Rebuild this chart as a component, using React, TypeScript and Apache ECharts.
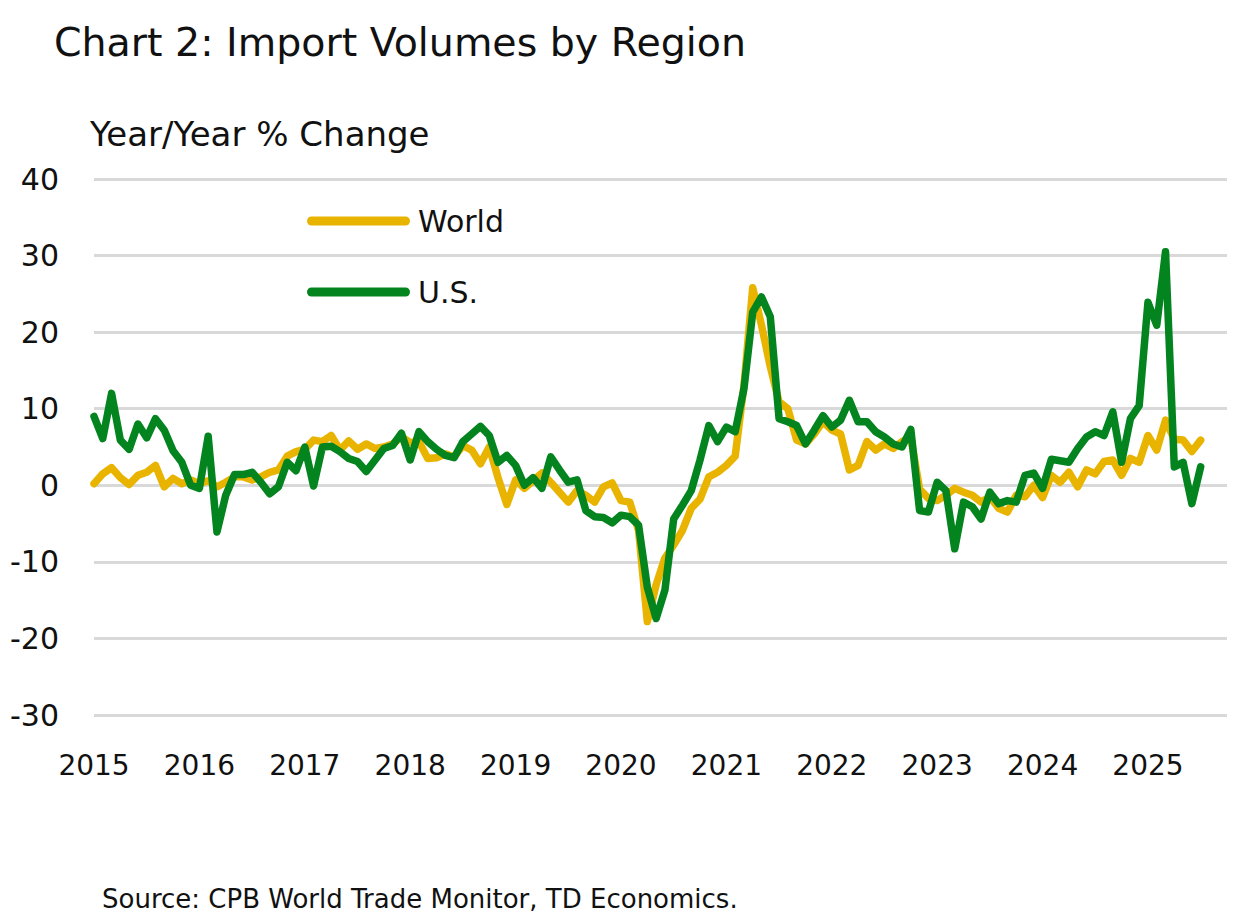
import { useRef, useEffect } from "react";
import * as echarts from "echarts";

// monthly, Jan 2015 onward; axis runs to Oct 2025
const startYear = 2015;
const monthCount = 130;

const world = [
    0.2, 1.5, 2.3, 1.0, 0.1, 1.3, 1.7, 2.6, -0.2, 0.9, 0.2, 0.7,
    0.2, 0.6, -0.2, 0.4, 1.1, 1.1, 0.7, 1.1, 1.7, 2.0, 3.8, 4.4,
    4.7, 5.9, 5.7, 6.5, 4.6, 5.8, 4.7, 5.4, 4.8, 5.0, 5.4, 6.3,
    5.6, 5.7, 3.5, 3.6, 4.1, 3.7, 5.2, 4.6, 2.8, 5.0, 1.0, -2.5,
    0.7, -0.4, 0.6, 1.6, 0.4, -0.9, -2.2, -0.7, -1.3, -2.2, -0.2, 0.3,
    -2.0, -2.2, -5.9, -17.8, -13.0, -9.5, -7.8, -5.9, -3.0, -1.8, 1.1, 1.7,
    2.6, 3.8, 13.0, 25.8, 20.9, 15.5, 10.9, 10.0, 5.9, 5.4, 6.7, 8.3,
    7.2, 6.7, 2.0, 2.6, 5.7, 4.6, 5.4, 4.8, 5.7, 6.3, -0.5, -1.7,
    -2.0, -1.3, -0.4, -0.9, -1.3, -2.2, -1.5, -3.0, -3.5, -1.3, -1.5, 0.0,
    -1.6, 1.3, 0.4, 1.7, -0.2, 2.0, 1.5, 3.1, 3.3, 1.3, 3.5, 3.0,
    6.5, 4.6, 8.5, 6.0, 5.9, 4.4, 5.9,
];

const us = [
    9.0, 6.1, 12.0, 5.9, 4.7, 8.0, 6.2, 8.7, 7.2, 4.5, 3.0, 0.0,
    -0.4, 6.4, -6.1, -1.3, 1.4, 1.4, 1.7, 0.4, -1.1, -0.2, 3.0, 1.9,
    5.0, -0.1, 5.0, 5.1, 4.4, 3.5, 3.1, 1.8, 3.3, 4.8, 5.2, 6.8,
    3.3, 7.0, 5.7, 4.7, 3.9, 3.6, 5.7, 6.7, 7.7, 6.5, 3.0, 3.9,
    2.6, 0.0, 1.0, -0.4, 3.7, 2.0, 0.4, 0.7, -3.3, -4.1, -4.2, -4.9,
    -3.9, -4.1, -5.2, -13.3, -17.4, -13.7, -4.4, -2.6, -0.7, 3.3, 7.8, 5.7,
    7.6, 7.0, 12.6, 22.6, 24.6, 22.0, 8.7, 8.3, 7.8, 5.4, 7.2, 9.1,
    7.6, 8.5, 11.1, 8.3, 8.3, 7.0, 6.3, 5.4, 5.0, 7.3, -3.3, -3.5,
    0.4, -0.7, -8.3, -2.2, -2.8, -4.4, -0.9, -2.4, -2.0, -2.2, 1.3, 1.6,
    -0.4, 3.4, 3.2, 3.0, 4.8, 6.3, 7.0, 6.5, 9.6, 3.0, 8.7, 10.4,
    23.9, 20.9, 30.5, 2.4, 3.0, -2.4, 2.4,
];

const yTicks = { min: -30, max: 40, step: 10 };

const months: string[] = [];
for (let i = 0; i < monthCount; i++) {
    const y = startYear + Math.floor(i / 12);
    const m = (i % 12) + 1;
    months.push(`${y}-${String(m).padStart(2, "0")}`);
}

const FONT = "'DejaVu Sans', sans-serif";
const YELLOW = "#E8B400";
const GREEN = "#04841E";
// rounded-end bar for the legend, same aspect as the icon box
const pill = "path://M4.5,0 H98.5 A4.5,4.5 0 0 1 98.5,9 H4.5 A4.5,4.5 0 0 1 4.5,0 Z";

function App() {
    const chartRef = useRef<HTMLDivElement | null>(null);

    useEffect(() => {
        if (!chartRef.current) return;
        const chart = echarts.init(chartRef.current, null, { renderer: "svg" });

        const legendBase = {
            orient: "vertical",
            left: 307,
            padding: 0,
            itemWidth: 103,
            itemHeight: 9,
            icon: pill,
            textStyle: { fontFamily: FONT, fontSize: 30, color: "#111", lineHeight: 32, padding: [0, 0, 0, 3] },
        };

        chart.setOption({
            animation: false,
            backgroundColor: "#fff",
            textStyle: { fontFamily: FONT },
            title: [
                {
                    text: "Chart 2: Import Volumes by Region",
                    left: 54,
                    top: 22,
                    padding: 0,
                    textStyle: { fontFamily: FONT, fontSize: 39.5, fontWeight: "normal", color: "#111" },
                },
                {
                    text: "Year/Year % Change",
                    left: 90,
                    top: 117,
                    padding: 0,
                    textStyle: { fontFamily: FONT, fontSize: 34, fontWeight: "normal", color: "#111" },
                },
                {
                    text: "Source: CPB World Trade Monitor, TD Economics.",
                    left: 102,
                    top: 886,
                    padding: 0,
                    textStyle: { fontFamily: FONT, fontSize: 26, fontWeight: "normal", color: "#111" },
                },
            ],
            legend: [
                { ...legendBase, top: 205, data: ["World"] },
                { ...legendBase, top: 276, data: ["U.S."] },
            ],
            grid: { left: 94, right: 13, top: 179, bottom: 209 },
            xAxis: {
                type: "category",
                data: months,
                boundaryGap: false,
                axisLine: { show: false },
                axisTick: { show: false },
                splitLine: { show: false },
                axisLabel: {
                    interval: (index: number) => index % 12 === 0,
                    formatter: (v: string) => v.slice(0, 4),
                    fontFamily: FONT,
                    fontSize: 28,
                    color: "#111",
                    margin: 36,
                },
            },
            yAxis: {
                type: "value",
                min: yTicks.min,
                max: yTicks.max,
                interval: yTicks.step,
                axisLine: { show: false },
                axisTick: { show: false },
                axisLabel: { fontFamily: FONT, fontSize: 30, color: "#111", margin: 35 },
                splitLine: { lineStyle: { color: "#D9D9D9", width: 3 } },
            },
            series: [
                {
                    name: "World",
                    type: "line",
                    data: world,
                    symbol: "none",
                    color: YELLOW,
                    lineStyle: { width: 7.5, color: YELLOW, join: "round", cap: "round" },
                },
                {
                    name: "U.S.",
                    type: "line",
                    data: us,
                    symbol: "none",
                    color: GREEN,
                    lineStyle: { width: 7.5, color: GREEN, join: "round", cap: "round" },
                },
            ],
        });

        return () => {
            chart.dispose();
        };
    }, []);

    return (
        <div
            ref={chartRef}
            style={{ position: "fixed", left: 0, top: 0, width: "1240px", height: "924px", background: "#fff" }}
        />
    );
}

export default App;
